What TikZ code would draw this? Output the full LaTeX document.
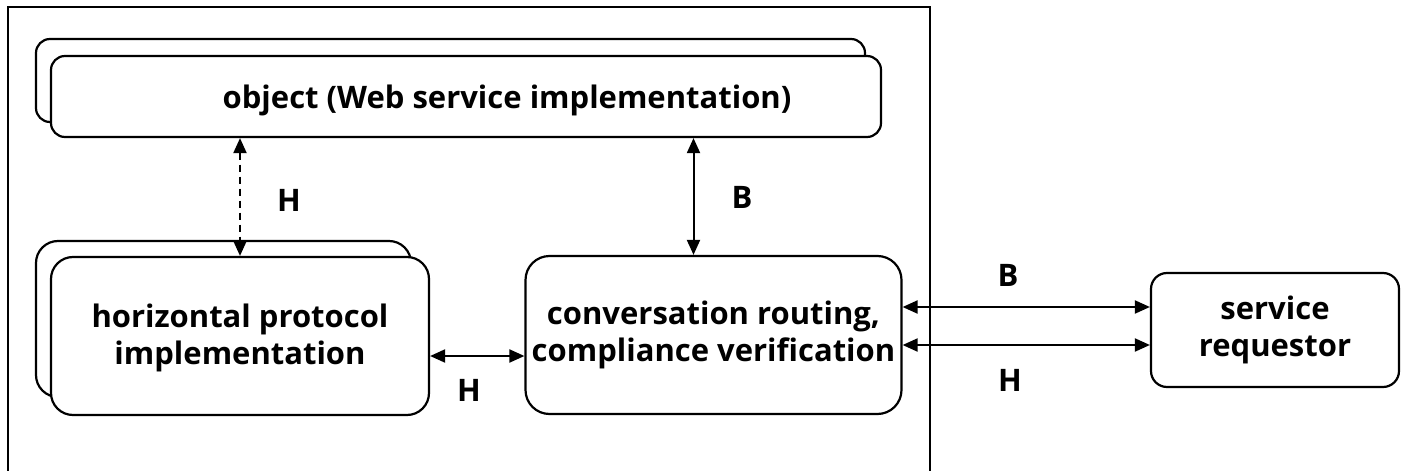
\documentclass[tikz,border=0pt]{standalone}
\usepackage{fontspec}
\setmainfont{Open Sans}[BoldFont={Open Sans Bold}]
\usetikzlibrary{arrows.meta}
\begin{document}
\begin{tikzpicture}[x=1pt,y=-1pt,
  box/.style={draw,line width=2.2pt,rounded corners=#1,fill=white,inner sep=0pt},
  box/.default=16pt,
  txt/.style={font=\fontsize{31}{37}\selectfont\bfseries,align=center,inner sep=0pt},
  lbl/.style={font=\fontsize{31}{34}\selectfont\bfseries,inner sep=0pt},
  biarrow/.style={line width=2pt,{Triangle[length=15pt,width=13pt]}-{Triangle[length=15pt,width=13pt]}}]
\useasboundingbox (0,0) rectangle (1401,471);
\fill[white] (0,0) rectangle (1401,471);
% outer container
\draw[line width=1.6pt] (8,471) -- (8,7) -- (930,7) -- (930,471);
% object (stacked)
\node[box=14pt,minimum width=829pt,minimum height=83pt] (objB) at (450.5,80.5) {};
\node[box=14pt,minimum width=830pt,minimum height=81pt] (objF) at (466,96.5) {};
\node[txt] (objT) at (507,100) {object (Web service implementation)};
% horizontal protocol (stacked)
\node[box=22pt,minimum width=375pt,minimum height=156pt] (hpB) at (223.5,319) {};
\node[box=22pt,minimum width=378pt,minimum height=158pt] (hpF) at (240,336) {};
\node[txt] (hpT) at (240,338) {horizontal protocol\\implementation};
% conversation routing
\node[box=24pt,minimum width=376pt,minimum height=158pt,txt] (conv) at (713.5,335) {conversation routing,\\compliance verification};
% service requestor
\node[box=16pt,minimum width=248pt,minimum height=114pt,txt] (svc) at (1275,330) {service\\requestor};
% connectors
\draw[biarrow,dashed,dash pattern=on 7pt off 5pt] (hpF.north |- objF.south) -- (hpF.north);
\draw[biarrow] ([xshift=-20pt]conv.north |- objF.south) -- ([xshift=-20pt]conv.north);
\draw[biarrow] (hpF.east |- 0,356) -- (conv.west |- 0,356);
\draw[biarrow] (conv.east |- 0,307) -- (svc.west |- 0,307);
\draw[biarrow] (conv.east |- 0,345) -- (svc.west |- 0,345);
% labels
\node[lbl] (lH1) at (289,200) {H};
\node[lbl] (lB1) at (742,197) {B};
\node[lbl] (lH2) at (469,390) {H};
\node[lbl] (lB2) at (1008,275) {B};
\node[lbl] (lH3) at (1010,380) {H};
\end{tikzpicture}
\end{document}
